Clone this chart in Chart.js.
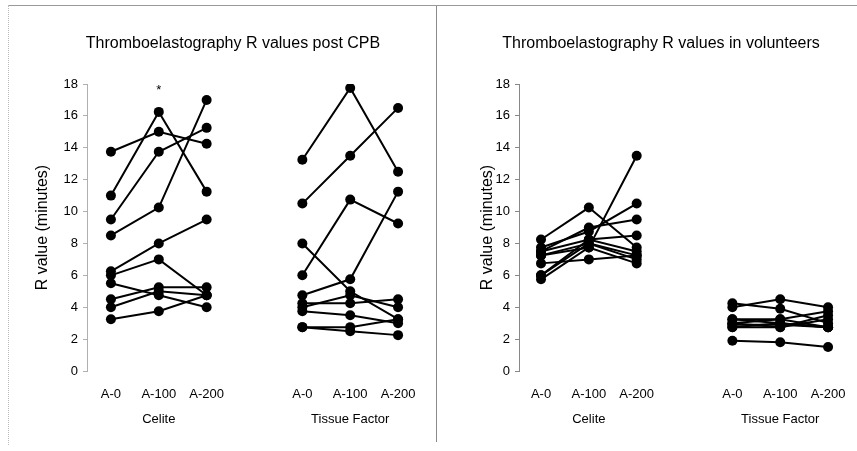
<!DOCTYPE html>
<html>
<head>
<meta charset="utf-8">
<script src="https://cdn.jsdelivr.net/npm/chart.js@4/dist/chart.umd.min.js"></script>
<style>
  html, body { margin:0; padding:0; background:#fff; width:857px; height:451px; overflow:hidden; }
  #wrap { position:relative; width:857px; height:451px; }
  canvas { position:absolute; top:0; }
  #c1 { left:0; }
  #c2 { left:463px; }
  .topline { position:absolute; left:8px; top:5px; width:849px; height:0; border-top:1px solid #9a9a9a; }
  .sep { position:absolute; left:436px; top:6px; width:0; height:436px; border-left:1px solid #8a8a8a; }
  .leftedge { position:absolute; left:8px; top:5px; width:0; height:440px; border-left:1px dotted #bbb; }
</style>
</head>
<body>
<div id="wrap">
  <div class="topline"></div>
  <div class="leftedge"></div>
  <div class="sep"></div>
  <canvas id="c1" width="466" height="451"></canvas>
  <canvas id="c2" width="394" height="451"></canvas>
</div>
<script>
// ---- Data ----
const xLabels = ['A-0', 'A-100', 'A-200', '', 'A-0', 'A-100', 'A-200'];
const groupLabels = ['Celite', 'Tissue Factor'];
const yTicks = { min: 0, max: 18, step: 2 };
const titles = ['Thromboelastography R values post CPB', 'Thromboelastography R values in volunteers'];
const yTitle = 'R value (minutes)';
const asteriskMark = { index: 1, value: 17.6, text: '*' };

// Post CPB, one row per subject: [A-0, A-100, A-200]
const cpbCelite = [
  [13.75, 15.0, 14.25],
  [11.0, 16.25, 11.25],
  [9.5, 13.75, 15.25],
  [8.5, 10.25, 17.0],
  [6.25, 8.0, 9.5],
  [6.0, 7.0, 4.75],
  [5.5, 4.75, 4.0],
  [4.5, 5.25, 5.25],
  [4.0, 5.0, 4.75],
  [3.25, 3.75, 4.75]
];
const cpbTissue = [
  [13.25, 17.75, 12.5],
  [10.5, 13.5, 16.5],
  [6.0, 10.75, 9.25],
  [8.0, 5.0, 3.25],
  [4.75, 5.75, 11.25],
  [4.25, 4.25, 4.5],
  [4.0, 4.75, 4.0],
  [3.75, 3.5, 3.0],
  [2.75, 2.75, 3.25],
  [2.75, 2.5, 2.25]
];
// Volunteers
const volCelite = [
  [8.25, 10.25, 7.75],
  [7.75, 8.75, 10.5],
  [7.5, 9.0, 9.5],
  [7.25, 8.0, 7.0],
  [6.75, 7.0, 7.25],
  [5.75, 7.75, 13.5],
  [6.0, 8.25, 8.5],
  [7.5, 8.25, 7.5],
  [7.25, 7.75, 6.75],
  [6.0, 8.0, 7.25]
];
const volTissue = [
  [4.25, 3.9, 3.0],
  [4.0, 4.5, 4.0],
  [3.25, 3.25, 3.75],
  [3.0, 2.75, 3.5],
  [2.75, 3.0, 2.75],
  [2.9, 2.9, 2.75],
  [1.9, 1.8, 1.5],
  [3.0, 3.25, 2.75],
  [2.75, 2.75, 3.25],
  [3.25, 3.0, 2.75]
];

// ---- Build ----
const FONT = "'Liberation Sans', Arial, Helvetica, sans-serif";
// category index of each label slot (slot 3 is the empty gap)
const slotIndex = xLabels.map((_, i) => i);
const celiteSlots = [0, 1, 2];
const tissueSlots = [4, 5, 6];

function makeDatasets(celite, tissue) {
  const ds = [];
  celite.forEach(r => ds.push(lineDs(celiteSlots.map((s, k) => ({ x: s, y: r[k] })))));
  tissue.forEach(r => ds.push(lineDs(tissueSlots.map((s, k) => ({ x: s, y: r[k] })))));
  return ds;
}
function lineDs(data) {
  return {
    data: data,
    borderColor: '#000',
    backgroundColor: '#000',
    borderWidth: 2,
    pointRadius: 5,
    pointBackgroundColor: '#000',
    pointBorderColor: '#000',
    pointBorderWidth: 0,
    tension: 0
  };
}

function tickCallback(value) {
  const i = Math.round(value);
  const lab = xLabels[i] || '';
  if (i === 1) return [lab, groupLabels[0]];
  if (i === 5) return [lab, groupLabels[1]];
  return [lab, ''];
}

const asteriskPlugin = {
  id: 'asterisk',
  afterDatasetsDraw(chart, args, opts) {
    if (!opts.show) return;
    const ctx = chart.ctx;
    const x = chart.scales.x.getPixelForValue(asteriskMark.index);
    const y = chart.scales.y.getPixelForValue(asteriskMark.value);
    ctx.save();
    ctx.fillStyle = '#000';
    ctx.font = '13px ' + FONT;
    ctx.textAlign = 'center';
    ctx.textBaseline = 'middle';
    ctx.fillText(asteriskMark.text, x, y);
    ctx.restore();
  }
};

function makeChart(id, title, celite, tissue, opt) {
  return new Chart(document.getElementById(id), {
    type: 'line',
    data: { datasets: makeDatasets(celite, tissue) },
    plugins: [asteriskPlugin],
    options: {
      responsive: false,
      animation: false,
      layout: { padding: { left: opt.padLeft, right: opt.padRight, top: 0, bottom: 0 } },
      plugins: {
        legend: { display: false },
        tooltip: { enabled: false },
        asterisk: { show: opt.asterisk },
        title: {
          display: true,
          text: title,
          color: '#000',
          font: { family: FONT, size: 16, weight: 'normal', lineHeight: 1.2 },
          padding: { top: 34, bottom: 30.8 }
        }
      },
      scales: {
        x: {
          type: 'linear',
          min: opt.xMin, max: slotIndex.length - 0.5,
          grid: { display: false, drawTicks: false },
          border: { display: false },
          afterBuildTicks(s) { s.ticks = slotIndex.filter(i => xLabels[i] !== '').map(v => ({ value: v })); },
          ticks: {
            autoSkip: false, maxRotation: 0, minRotation: 0,
            padding: 11, color: '#000',
            font: { family: FONT, size: 13, lineHeight: 1.92 },
            callback: tickCallback
          },
          afterFit(s) { s.height = 80; }
        },
        y: {
          min: yTicks.min, max: yTicks.max,
          ticks: { stepSize: yTicks.step, color: '#000', padding: 5, font: { family: FONT, size: 13 } },
          grid: { drawOnChartArea: false, drawTicks: true, tickLength: 4, color: opt.axisColor },
          border: { display: true, color: opt.axisColor, width: 1 },
          title: {
            display: true, text: yTitle, color: '#000',
            font: { family: FONT, size: 16, weight: 'normal', lineHeight: 1.2 },
            padding: { top: opt.yTitlePad, bottom: 0 }
          },
          afterFit(s) { s.width = opt.yWidth; }
        }
      }
    }
  });
}

makeChart('c1', titles[0], cpbCelite, cpbTissue, { padLeft: 44, padRight: 44, yWidth: 43, yTitlePad: -10.6, axisColor: '#b0b0b0', asterisk: true, xMin: -0.5 });
makeChart('c2', titles[1], volCelite, volTissue, { padLeft: 4, padRight: 2, yWidth: 52, yTitlePad: 10.5, axisColor: '#888', asterisk: false, xMin: -0.46 });
</script>
</body>
</html>
